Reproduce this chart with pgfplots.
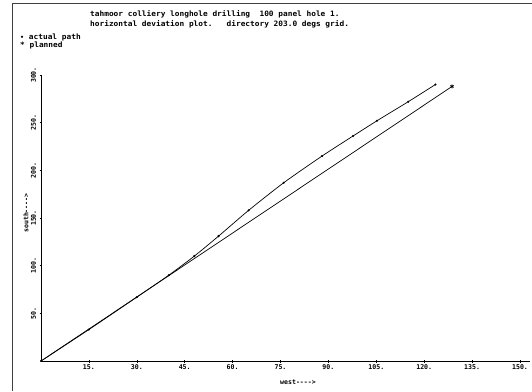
\documentclass[border=0pt]{standalone}
\usepackage{fontspec}
\setmainfont{DejaVu Sans Mono}[Ligatures=NoCommon]
\setmonofont{DejaVu Sans Mono}
\usepackage{pgfplots}
\pgfplotsset{compat=1.18}
\newcommand{\df}{\fontsize{6.6}{7.5}\selectfont\bfseries}
\newcommand{\tf}{\fontsize{7.4}{8.5}\selectfont\bfseries}
\begin{document}
\begin{tikzpicture}[x=1bp,y=1bp]
\path[use as bounding box] (0,0) rectangle (532,-391);
\draw[black!75,line width=0.6pt] (12,-391) -- (12,-3) -- (532,-3);
\begin{axis}[
  at={(41bp,-361bp)}, anchor=south west,
  scale only axis, width=488.6bp, height=286bp,
  xmin=0, xmax=153, ymin=0, ymax=300,
  axis x line=bottom, axis y line=left,
  axis line style={-, line width=0.7pt},
  xtick={15,30,45,60,75,90,105,120,135,150},
  xticklabels={15.,30.,45.,60.,75.,90.,105.,120.,135.,150.},
  ytick={50,100,150,200,250,300},
  yticklabels={50.,100.,150.,200.,250.,300.},
  tick align=center, major tick length=3pt,
  tick style={line width=0.6pt, black},
  x tick label style={font=\df, yshift=1pt},
  y tick label style={font=\df, rotate=90, anchor=south},
  clip=false,
]
\addplot[black, line width=0.7pt, mark=*, mark size=0.7pt, smooth, tension=0.4] coordinates {
 (0,0) (15,33) (30,67) (40,90) (48,110) (55.6,131) (65,158) (76,187) (88,215)
 (97.7,236) (105.2,252) (115,272) (123.5,290)};
\addplot[black, line width=0.7pt, mark=asterisk, mark size=2pt, mark indices={2}] coordinates {
 (0,0) (128.7,288)};
\end{axis}
\node[anchor=west, font=\tf, xscale=1.06, inner sep=0pt] at (90,-14) {tahmoor colliery longhole drilling~~100 panel hole 1.};
\node[anchor=west, font=\tf, xscale=1.06, inner sep=0pt] at (90,-24) {horizontal deviation plot.~~~directory 203.0 degs grid.};
\node[anchor=west, font=\tf, xscale=1.06, inner sep=0pt] at (20,-37) {{\fontspec{DejaVu Sans}\bfseries\fontsize{6}{7}\selectfont•}~actual path};
\node[anchor=west, font=\tf, xscale=1.06, inner sep=0pt] at (20,-45) {*~planned};
\node[font=\df, rotate=90] at (26,-213) {south-{}-{}-{}->};
\node[font=\df] at (298,-382) {west-{}-{}-{}->};
\end{tikzpicture}
\end{document}
